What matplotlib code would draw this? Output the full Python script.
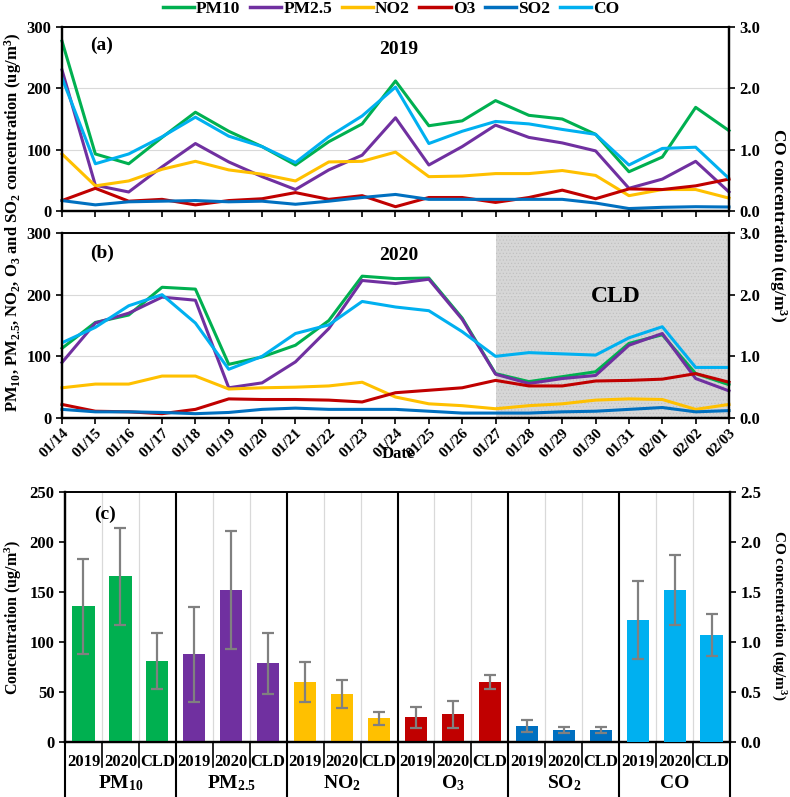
import matplotlib
matplotlib.use("Agg")
import matplotlib.pyplot as plt
from matplotlib.lines import Line2D

plt.rcParams['font.family'] = ['Liberation Serif', 'DejaVu Serif']
plt.rcParams['font.weight'] = 'bold'
plt.rcParams['mathtext.fontset'] = 'custom'
plt.rcParams['mathtext.rm'] = 'Liberation Serif:bold'
plt.rcParams['mathtext.bf'] = 'Liberation Serif:bold'
plt.rcParams['mathtext.it'] = 'Liberation Serif:bold'
plt.rcParams['hatch.linewidth'] = 0.4

# --- data ---
dates = ['01/14', '01/15', '01/16', '01/17', '01/18', '01/19', '01/20', '01/21',
         '01/22', '01/23', '01/24', '01/25', '01/26', '01/27', '01/28', '01/29',
         '01/30', '01/31', '02/01', '02/02', '02/03']

pm10_2019 = [277, 93, 77, 120, 161, 130, 105, 75, 113, 142, 212, 139, 147, 180, 156, 150, 125, 64, 88, 169, 131]
pm25_2019 = [230, 42, 31, 72, 110, 80, 56, 35, 67, 91, 152, 75, 105, 140, 120, 111, 98, 37, 52, 81, 31]
no2_2019 = [93, 41, 49, 68, 81, 67, 60, 49, 80, 81, 96, 56, 57, 61, 61, 66, 58, 25, 35, 35, 21]
o3_2019 = [17, 37, 16, 19, 10, 17, 20, 30, 19, 25, 7, 22, 22, 14, 22, 34, 20, 36, 35, 41, 52]
so2_2019 = [17, 10, 15, 16, 17, 15, 16, 11, 16, 22, 27, 19, 19, 19, 19, 19, 13, 4, 6, 7, 6.5]
co_2019 = [2.17, 0.77, 0.93, 1.21, 1.53, 1.22, 1.05, 0.79, 1.21, 1.55, 2.02, 1.10, 1.30,
           1.46, 1.42, 1.33, 1.25, 0.75, 1.02, 1.04, 0.53]

pm10_2020 = [113, 155, 167, 212, 209, 87, 99, 118, 158, 230, 226, 227, 162, 72, 59, 67, 75, 121, 135, 72, 54]
pm25_2020 = [90, 154, 170, 196, 191, 49, 57, 91, 145, 223, 218, 225, 160, 71, 56, 64, 69, 118, 137, 64, 44]
no2_2020 = [49, 55, 55, 68, 68, 47, 49, 50, 52, 58, 34, 23, 20, 15, 20, 23, 29, 31, 30, 14, 22]
o3_2020 = [22, 11, 10, 7, 14, 31, 30, 30, 29, 26, 41, 45, 49, 61, 52, 52, 60, 61, 63, 72, 58]
so2_2020 = [14, 10, 10, 9, 7, 9, 14, 16, 14, 14, 14, 11, 8, 8, 8, 10, 11, 14, 17, 10, 12]
co_2020 = [1.22, 1.47, 1.82, 2.00, 1.54, 0.79, 1.00, 1.37, 1.51, 1.89, 1.80, 1.74, 1.40,
           1.00, 1.06, 1.04, 1.02, 1.30, 1.48, 0.82, 0.82]

pollutants = ['PM10', 'PM2.5', 'NO2', 'O3', 'SO2', 'CO']
group_labels = ['PM$_{10}$', 'PM$_{2.5}$', 'NO$_2$', 'O$_3$', 'SO$_2$', 'CO']
periods = ['2019', '2020', 'CLD']
colors = ['#00B050', '#7030A0', '#FFC000', '#C00000', '#0070C0', '#00B0F0']

mean_pm10 = [136, 166, 81]
mean_pm25 = [88, 152, 79]
mean_no2 = [60, 48, 24]
mean_o3 = [25, 28, 60]
mean_so2 = [16.5, 12.5, 12]
mean_co = [1.22, 1.52, 1.07]
sd_pm10 = [47.5, 48.5, 28]
sd_pm25 = [47.5, 59, 30.5]
sd_no2 = [20, 14, 6.5]
sd_o3 = [10.5, 13.5, 7]
sd_so2 = [6, 3, 3]
sd_co = [0.39, 0.35, 0.21]

W, H = 790, 797
fig = plt.figure(figsize=(W / 100, H / 100), dpi=100)


def px_axes(left, top, right, bottom):
    return fig.add_axes([left / W, 1 - bottom / H, (right - left) / W, (bottom - top) / H])


def style_line_axes(ax, ax2):
    ax.set_xlim(0, len(dates) - 1)
    ax.set_ylim(0, 300)
    ax.set_yticks([0, 100, 200, 300])
    ax2.set_ylim(0, 3)
    ax2.set_yticks([0, 1, 2, 3])
    ax2.set_yticklabels(['0.0', '1.0', '2.0', '3.0'])
    ax.set_xticks(range(len(dates)))
    ax.grid(axis='y', color='#d9d9d9', lw=0.8)
    ax.set_axisbelow(True)
    for a in (ax, ax2):
        a.tick_params(direction='out', length=4, width=1.2, labelsize=12)
        for s in a.spines.values():
            s.set_linewidth(1.2)
        a.spines['left'].set_linewidth(1.6)
        a.spines['bottom'].set_linewidth(1.6)
        a.spines['right'].set_linewidth(1.6)


def draw_series(ax, ax2, series, co):
    for vals, c in zip(series, colors[:5]):
        ax.plot(range(len(dates)), vals, color=c, lw=2.2, clip_on=False)
    ax2.plot(range(len(dates)), co, color=colors[5], lw=2.2)


# panel (a)
ax_a = px_axes(62, 27, 729, 211)
ax_a2 = ax_a.twinx()
style_line_axes(ax_a, ax_a2)
draw_series(ax_a, ax_a2, [pm10_2019, pm25_2019, no2_2019, o3_2019, so2_2019], co_2019)
ax_a.set_xticklabels([])
ax_a.text(0.85, 270, '(a)', fontsize=14, va='center')
ax_a.text(10.1, 264, '2019', fontsize=14, va='center', ha='center')

# panel (b)
ax_b = px_axes(62, 233, 729, 418)
ax_b2 = ax_b.twinx()
style_line_axes(ax_b, ax_b2)
ax_b.axvspan(13, 20, facecolor='#d6d6d6', edgecolor='#bdbdbd', hatch='.....', lw=0, zorder=0)
draw_series(ax_b, ax_b2, [pm10_2020, pm25_2020, no2_2020, o3_2020, so2_2020], co_2020)
ax_b.set_xticklabels(dates, rotation=45, ha='right', rotation_mode='anchor', fontsize=11)
ax_b.tick_params(axis='x', pad=2)
ax_b.text(0.85, 267, '(b)', fontsize=14, va='center')
ax_b.text(10.1, 264, '2020', fontsize=14, va='center', ha='center')
ax_b.text(16.6, 197, 'CLD', fontsize=17, va='center', ha='center')

fig.text(398 / W, 1 - 454 / H, 'Date', ha='center', va='center', fontsize=12)
fig.text(13 / W, 1 - 222 / H,
         'PM$_{10}$, PM$_{2.5}$, NO$_2$, O$_3$ and SO$_2$ concentration (ug/m$^3$)',
         rotation=90, ha='center', va='center', fontsize=12)
fig.text(778 / W, 1 - 225 / H, 'CO concentration (ug/m$^3$)',
         rotation=270, ha='center', va='center', fontsize=12.5)

# legend
handles = [Line2D([], [], color=c, lw=2.5) for c in colors]
fig.legend(handles, pollutants, loc='center', bbox_to_anchor=(391 / W, 1 - 9 / H), ncol=6,
           frameon=False, fontsize=12.5, handlelength=1.8, columnspacing=0.55,
           handletextpad=0.12, borderpad=0)

# panel (c)
ax_c = px_axes(65, 492, 730, 742)
ax_c2 = ax_c.twinx()
means = [mean_pm10, mean_pm25, mean_no2, mean_o3, mean_so2]
sds = [sd_pm10, sd_pm25, sd_no2, sd_o3, sd_so2]
for g, (m, s) in enumerate(zip(means, sds)):
    xs = [g * 3 + i for i in range(3)]
    ax_c.bar(xs, m, width=0.6, color=colors[g], yerr=s, ecolor='#808080',
             error_kw=dict(elinewidth=1.6, capsize=4, capthick=1.6), zorder=3)
ax_c2.bar([15, 16, 17], mean_co, width=0.6, color=colors[5], yerr=sd_co, ecolor='#808080',
          error_kw=dict(elinewidth=1.6, capsize=4, capthick=1.6), zorder=3)

n_bars = len(pollutants) * len(periods)
ax_c.set_xlim(-0.5, n_bars - 0.5)
ax_c.set_ylim(0, 250)
ax_c.set_yticks(range(0, 251, 50))
ax_c2.set_ylim(0, 2.5)
ax_c2.set_yticks([0, 0.5, 1.0, 1.5, 2.0, 2.5])
ax_c2.set_yticklabels(['0.0', '0.5', '1.0', '1.5', '2.0', '2.5'])
ax_c.set_xticks(range(n_bars))
ax_c.set_xticklabels(periods * len(pollutants), fontsize=12)
ax_c.tick_params(axis='x', length=0, pad=9)
for a in (ax_c, ax_c2):
    a.tick_params(axis='y', direction='out', length=4, width=1.2, labelsize=12)
    for s in a.spines.values():
        s.set_linewidth(1.6)
    a.spines['top'].set_linewidth(1.2)

trans = ax_c.get_xaxis_transform()
for k in range(n_bars + 1):
    x = k - 0.5
    if k % 3 == 0:
        if 0 < k < n_bars:
            ax_c.axvline(x, color='black', lw=1.5, zorder=4)
        ax_c.plot([x, x], [0, -0.22], color='black', lw=1.5, transform=trans, clip_on=False)
    else:
        ax_c.axvline(x, color='#d9d9d9', lw=0.9, zorder=1)
        ax_c.plot([x, x], [0, -0.1], color='black', lw=1.2, transform=trans, clip_on=False)
for g, lab in enumerate(group_labels):
    ax_c.text(g * 3 + 1, -0.165, lab, transform=trans, ha='center', va='center', fontsize=14)

ax_c.text(0.3, 228, '(c)', fontsize=14, va='center')
fig.text(13 / W, 1 - 617 / H, 'Concentration (ug/m$^3$)', rotation=90,
         ha='center', va='center', fontsize=11.5)
fig.text(778 / W, 1 - 615 / H, 'CO concentration (ug/m$^3$)', rotation=270,
         ha='center', va='center', fontsize=11)

fig.savefig('out.png', dpi=100)
